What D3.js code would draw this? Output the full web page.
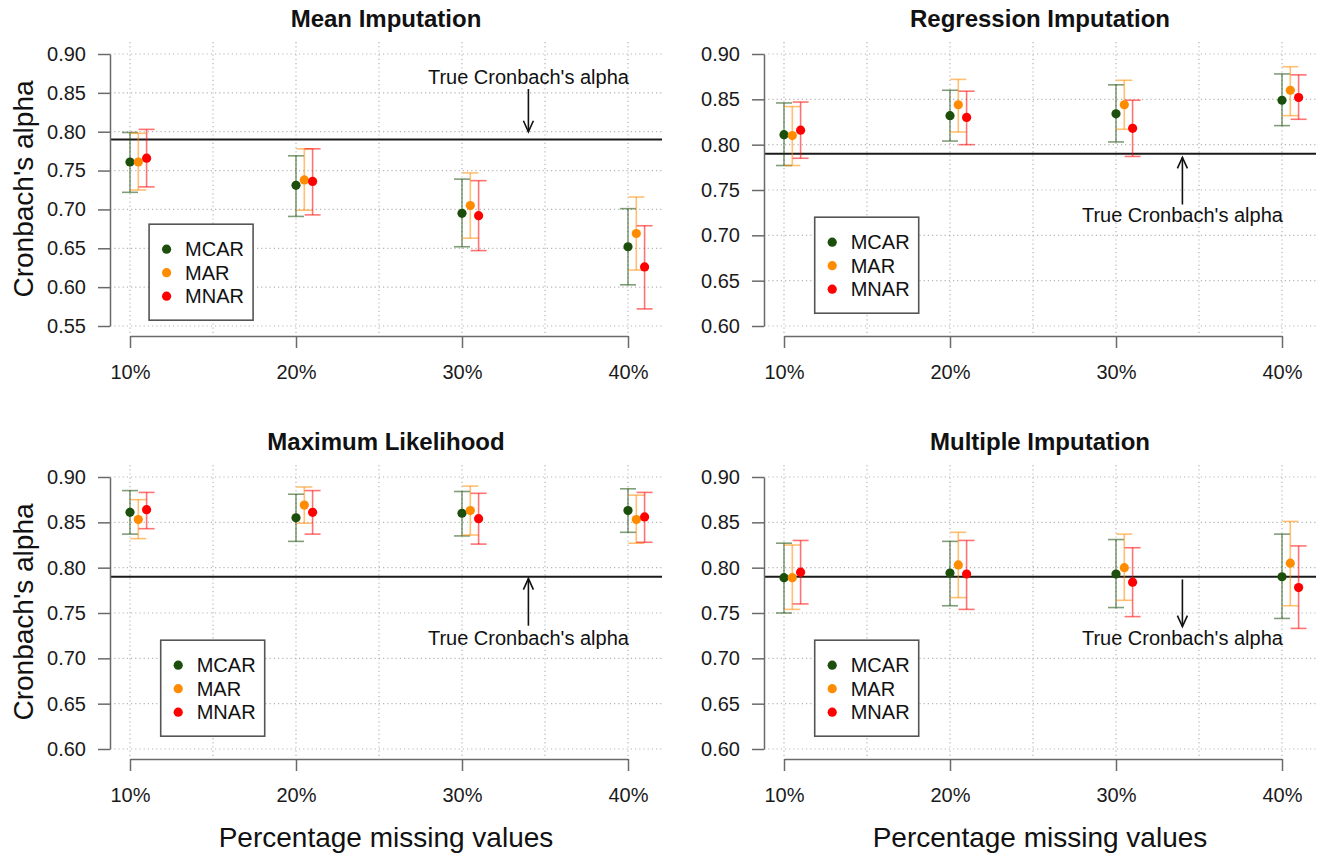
<!DOCTYPE html>
<html>
<head>
<meta charset="utf-8">
<script src="https://cdn.jsdelivr.net/npm/d3@7"></script>
<style>
  body { margin: 0; background: #fff; }
  svg { font-family: "Liberation Sans", Arial, Helvetica, sans-serif; }
  .grid line { stroke: #b5b5b5; stroke-width: 1.2; stroke-dasharray: 1.2 3; }
  .axis path, .axis line { stroke: #6a6a6a; stroke-width: 1.5; }
  .axis text { font-size: 20px; fill: #1a1a1a; font-family: "Liberation Sans", Arial, sans-serif; }
</style>
</head>
<body>
<svg id="chart"></svg>
<script>
// Chart data
const percents = [10, 20, 30, 40];
const mechanisms = ["MCAR", "MAR", "MNAR"];
const mechColors = ["#1b4f0b", "#ff8c00", "#ff0000"];
const trueAlpha = 0.79;

// [missing %, mechanism, alpha, lower, upper]
const meanImputation = [
  [10, "MCAR", 0.761, 0.722, 0.799],
  [10, "MAR", 0.761, 0.725, 0.798],
  [10, "MNAR", 0.766, 0.729, 0.803],
  [20, "MCAR", 0.731, 0.691, 0.769],
  [20, "MAR", 0.738, 0.699, 0.778],
  [20, "MNAR", 0.736, 0.693, 0.778],
  [30, "MCAR", 0.695, 0.652, 0.739],
  [30, "MAR", 0.705, 0.663, 0.747],
  [30, "MNAR", 0.692, 0.647, 0.737],
  [40, "MCAR", 0.652, 0.603, 0.701],
  [40, "MAR", 0.669, 0.622, 0.716],
  [40, "MNAR", 0.626, 0.572, 0.679]
];

const regressionImputation = [
  [10, "MCAR", 0.811, 0.777, 0.846],
  [10, "MAR", 0.810, 0.777, 0.842],
  [10, "MNAR", 0.816, 0.785, 0.847],
  [20, "MCAR", 0.832, 0.804, 0.860],
  [20, "MAR", 0.844, 0.814, 0.872],
  [20, "MNAR", 0.830, 0.800, 0.859],
  [30, "MCAR", 0.834, 0.803, 0.866],
  [30, "MAR", 0.844, 0.817, 0.871],
  [30, "MNAR", 0.818, 0.787, 0.849],
  [40, "MCAR", 0.849, 0.821, 0.878],
  [40, "MAR", 0.860, 0.832, 0.886],
  [40, "MNAR", 0.852, 0.828, 0.877]
];

const maximumLikelihood = [
  [10, "MCAR", 0.861, 0.837, 0.885],
  [10, "MAR", 0.853, 0.832, 0.875],
  [10, "MNAR", 0.864, 0.843, 0.883],
  [20, "MCAR", 0.855, 0.829, 0.881],
  [20, "MAR", 0.869, 0.849, 0.889],
  [20, "MNAR", 0.861, 0.837, 0.885],
  [30, "MCAR", 0.860, 0.835, 0.884],
  [30, "MAR", 0.863, 0.836, 0.890],
  [30, "MNAR", 0.854, 0.826, 0.882],
  [40, "MCAR", 0.863, 0.839, 0.887],
  [40, "MAR", 0.853, 0.827, 0.880],
  [40, "MNAR", 0.856, 0.828, 0.883]
];

const multipleImputation = [
  [10, "MCAR", 0.789, 0.750, 0.827],
  [10, "MAR", 0.789, 0.754, 0.825],
  [10, "MNAR", 0.795, 0.760, 0.830],
  [20, "MCAR", 0.794, 0.758, 0.829],
  [20, "MAR", 0.803, 0.767, 0.839],
  [20, "MNAR", 0.793, 0.754, 0.830],
  [30, "MCAR", 0.793, 0.756, 0.831],
  [30, "MAR", 0.800, 0.764, 0.837],
  [30, "MNAR", 0.784, 0.746, 0.822],
  [40, "MCAR", 0.790, 0.744, 0.837],
  [40, "MAR", 0.805, 0.758, 0.851],
  [40, "MNAR", 0.778, 0.733, 0.824]
];

const yTicksMean = [0.55, 0.60, 0.65, 0.70, 0.75, 0.80, 0.85, 0.90];
const yTicksOther = [0.60, 0.65, 0.70, 0.75, 0.80, 0.85, 0.90];
const gridX = [10, 15, 20, 25, 30, 35, 40];

// Panel setup (legend / annotation anchors are in data units, like R's legend(x, y))
const panels = [
  { title: "Mean Imputation", data: meanImputation, yTicks: yTicksMean, col: 0, row: 0,
    legendAt: [11.15, 0.681], arrowX: 34, arrowFrom: 0.855, arrowTo: 0.80, labelY: 0.871 },
  { title: "Regression Imputation", data: regressionImputation, yTicks: yTicksOther, col: 1, row: 0,
    legendAt: [11.85, 0.72], arrowX: 34, arrowFrom: 0.734, arrowTo: 0.786, labelY: 0.722 },
  { title: "Maximum Likelihood", data: maximumLikelihood, yTicks: yTicksOther, col: 0, row: 1,
    legendAt: [11.85, 0.72], arrowX: 34, arrowFrom: 0.736, arrowTo: 0.788, labelY: 0.722 },
  { title: "Multiple Imputation", data: multipleImputation, yTicks: yTicksOther, col: 1, row: 1,
    legendAt: [11.85, 0.72], arrowX: 34, arrowFrom: 0.787, arrowTo: 0.735, labelY: 0.722 }
];

const width = 1318;
const height = 856;
const colStep = 654;
const rowStep = 423;

// plot region inside each panel
const plotLeft = 110;
const plotRight = 662;
const plotTop = 42;
const plotBottom = 336;

const svg = d3.select("#chart").attr("width", width).attr("height", height);

panels.forEach(drawPanel);

function drawPanel(p) {
  const g = svg.append("g")
    .attr("transform", `translate(${p.col * colStep},${p.row * rowStep})`);

  const x = d3.scaleLinear().domain([10, 40]).range([130, 628]);
  const y = d3.scaleLinear().domain([d3.min(p.yTicks), 0.90]).range([326, 54]);
  const color = d3.scaleOrdinal().domain(mechanisms).range(mechColors);
  const dodge = d3.scaleOrdinal().domain(mechanisms).range([0, 0.5, 1]);

  // Dotted grid
  const grid = g.append("g").attr("class", "grid");
  grid.selectAll("line.v")
    .data(gridX)
    .enter()
    .append("line")
    .attr("class", "v")
    .attr("x1", (d) => x(d))
    .attr("x2", (d) => x(d))
    .attr("y1", plotTop)
    .attr("y2", plotBottom);
  grid.selectAll("line.h")
    .data(p.yTicks)
    .enter()
    .append("line")
    .attr("class", "h")
    .attr("x1", plotLeft)
    .attr("x2", plotRight)
    .attr("y1", (d) => y(d))
    .attr("y2", (d) => y(d));

  // True alpha reference line
  g.append("line")
    .attr("x1", plotLeft)
    .attr("x2", plotRight)
    .attr("y1", y(trueAlpha))
    .attr("y2", y(trueAlpha))
    .attr("stroke", "#1a1a1a")
    .attr("stroke-width", 2.2);

  // Error bars
  const bars = g.append("g")
    .selectAll("g")
    .data(p.data)
    .enter()
    .append("g")
    .attr("stroke", (d) => color(d[1]))
    .attr("stroke-opacity", 0.55)
    .attr("stroke-width", 1.6);

  bars.append("line")
    .attr("x1", (d) => x(d[0] + dodge(d[1])))
    .attr("x2", (d) => x(d[0] + dodge(d[1])))
    .attr("y1", (d) => y(d[3]))
    .attr("y2", (d) => y(d[4]));

  [3, 4].forEach((k) => {
    bars.append("line")
      .attr("x1", (d) => x(d[0] + dodge(d[1])) - 8)
      .attr("x2", (d) => x(d[0] + dodge(d[1])) + 8)
      .attr("y1", (d) => y(d[k]))
      .attr("y2", (d) => y(d[k]));
  });

  // Point estimates
  g.append("g")
    .selectAll("circle")
    .data(p.data)
    .enter()
    .append("circle")
    .attr("cx", (d) => x(d[0] + dodge(d[1])))
    .attr("cy", (d) => y(d[2]))
    .attr("r", 4.6)
    .attr("fill", (d) => color(d[1]));

  // Axes
  g.append("g")
    .attr("class", "axis")
    .attr("transform", `translate(0,${plotBottom})`)
    .call(
      d3.axisBottom(x)
        .tickValues(percents)
        .tickFormat((d) => d + "%")
        .tickSize(12)
        .tickSizeOuter(0)
        .tickPadding(17)
    );

  g.append("g")
    .attr("class", "axis")
    .attr("transform", `translate(${plotLeft},0)`)
    .call(
      d3.axisLeft(y)
        .tickValues(p.yTicks)
        .tickFormat(d3.format(".2f"))
        .tickSize(12)
        .tickSizeOuter(0)
        .tickPadding(12)
    );

  // Title
  g.append("text")
    .attr("x", (plotLeft + plotRight) / 2)
    .attr("y", 26.7)
    .attr("text-anchor", "middle")
    .attr("font-size", 24)
    .attr("font-weight", "bold")
    .attr("fill", "#111")
    .text(p.title);

  // Axis titles
  if (p.col === 0) {
    g.append("text")
      .attr("transform", `translate(33,${(plotTop + plotBottom) / 2}) rotate(-90)`)
      .attr("text-anchor", "middle")
      .attr("font-size", 28)
      .attr("fill", "#111")
      .text("Cronbach's alpha");
  }
  if (p.row === 1) {
    g.append("text")
      .attr("x", (plotLeft + plotRight) / 2)
      .attr("y", 424)
      .attr("text-anchor", "middle")
      .attr("font-size", 28)
      .attr("fill", "#111")
      .text("Percentage missing values");
  }

  // Annotation: arrow + label
  const ax = x(p.arrowX);
  const y0 = y(p.arrowFrom);
  const y1 = y(p.arrowTo);
  const dir = y1 > y0 ? 1 : -1;
  const headLen = 11;
  const headHalf = 5;
  g.append("line")
    .attr("x1", ax).attr("x2", ax)
    .attr("y1", y0).attr("y2", y1)
    .attr("stroke", "#111").attr("stroke-width", 1.6);
  g.append("path")
    .attr("d", `M${ax - headHalf},${y1 - dir * headLen}L${ax},${y1}L${ax + headHalf},${y1 - dir * headLen}`)
    .attr("fill", "none")
    .attr("stroke", "#111")
    .attr("stroke-width", 1.6);
  g.append("text")
    .attr("x", ax)
    .attr("y", y(p.labelY))
    .attr("dy", "0.35em")
    .attr("text-anchor", "middle")
    .attr("font-size", 20)
    .attr("fill", "#111")
    .text("True Cronbach's alpha");

  // Legend
  const lg = g.append("g")
    .attr("transform", `translate(${x(p.legendAt[0])},${y(p.legendAt[1])})`);
  lg.append("rect")
    .attr("width", 104)
    .attr("height", 96)
    .attr("fill", "#fff")
    .attr("stroke", "#555")
    .attr("stroke-width", 1.6);
  const item = lg.selectAll("g")
    .data(mechanisms)
    .enter()
    .append("g")
    .attr("transform", (d, i) => `translate(0,${25 + i * 23.5})`);
  item.append("circle")
    .attr("cx", 17.5)
    .attr("r", 4.6)
    .attr("fill", (d) => color(d));
  item.append("text")
    .attr("x", 36)
    .attr("dy", "0.35em")
    .attr("font-size", 20)
    .attr("fill", "#111")
    .text((d) => d);
}
</script>
</body>
</html>
